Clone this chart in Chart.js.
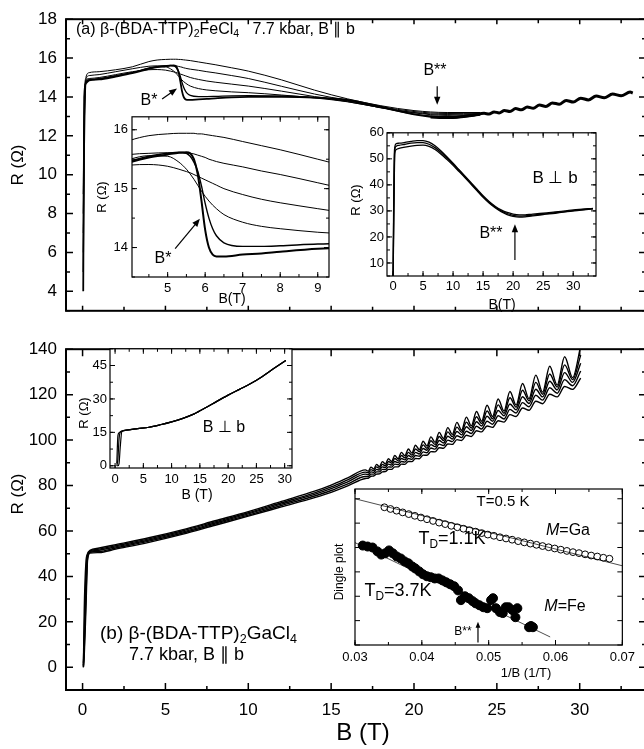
<!DOCTYPE html>
<html>
<head>
<meta charset="utf-8">
<script src="https://cdn.jsdelivr.net/npm/chart.js@4.4.1/dist/chart.umd.min.js"></script>
<style>
  html, body { margin: 0; padding: 0; background: #fff; }
  #fig { position: relative; width: 644px; height: 749px; overflow: hidden;
         font-family: 'Liberation Sans', Arial, sans-serif; color: #000; }
  #fig canvas { position: absolute; }
  .t { position: absolute; white-space: nowrap; line-height: 1; transform: translate(-50%, -50%); }
  .l { transform: translate(0, -50%); }
  .r { transform: translate(-50%, -50%) rotate(-90deg); }
  sub { font-size: 0.66em; vertical-align: -0.32em; line-height: 0; }
  i { font-style: italic; }
</style>
</head>
<body>
<div id="fig">
  <canvas id="cTop" width="660" height="330" style="left:0;top:0"></canvas>
  <canvas id="cBot" width="660" height="419" style="left:0;top:330px"></canvas>
  <canvas id="cInA" width="240" height="200" style="left:100px;top:105px"></canvas>
  <canvas id="cInB" width="260" height="180" style="left:350px;top:122px"></canvas>
  <canvas id="cInC" width="230" height="160" style="left:75px;top:338px"></canvas>
  <canvas id="cInD" width="320" height="200" style="left:320px;top:479px"></canvas>

  <!-- panel (a) -->
  <div class="t l" style="left:76px;top:29px;font-size:16px">(a) β-(BDA-TTP)<sub>2</sub>FeCl<sub>4</sub>&nbsp;&nbsp; 7.7 kbar, B ∥ b</div>
  <div class="t r" style="left:17px;top:165px;font-size:17px">R (Ω)</div>
  <div class="t" style="left:435px;top:70px;font-size:16px">B**</div>
  <div class="t" style="left:149px;top:100px;font-size:16px">B*</div>
  <div class="t r" style="left:101px;top:197px;font-size:13px">R (Ω)</div>
  <div class="t" style="left:232px;top:298px;font-size:14px">B(T)</div>
  <div class="t" style="left:163px;top:258px;font-size:16px">B*</div>
  <div class="t r" style="left:355px;top:200px;font-size:13px">R (Ω)</div>
  <div class="t" style="left:502px;top:304px;font-size:14px">B(T)</div>
  <div class="t" style="left:555px;top:177px;font-size:17px">B ⊥ b</div>
  <div class="t" style="left:491px;top:233px;font-size:16px">B**</div>

  <!-- panel (b) -->
  <div class="t r" style="left:17px;top:494px;font-size:17px">R (Ω)</div>
  <div class="t" style="left:363px;top:732px;font-size:24px">B (T)</div>
  <div class="t l" style="left:100px;top:632px;font-size:19px">(b) β-(BDA-TTP)<sub>2</sub>GaCl<sub>4</sub></div>
  <div class="t l" style="left:129px;top:654px;font-size:18px">7.7 kbar, B ∥ b</div>
  <div class="t r" style="left:83px;top:413px;font-size:13px">R (Ω)</div>
  <div class="t" style="left:224px;top:427px;font-size:16px">B ⊥ b</div>
  <div class="t" style="left:197px;top:494px;font-size:14px">B (T)</div>
  <div class="t" style="left:503px;top:500px;font-size:15px">T=0.5 K</div>
  <div class="t" style="left:568px;top:530px;font-size:16px"><i>M</i>=Ga</div>
  <div class="t" style="left:452px;top:538px;font-size:18px">T<sub>D</sub>=1.1K</div>
  <div class="t" style="left:398px;top:590px;font-size:18px">T<sub>D</sub>=3.7K</div>
  <div class="t" style="left:565px;top:606px;font-size:16px"><i>M</i>=Fe</div>
  <div class="t" style="left:463px;top:631px;font-size:12px">B**</div>
  <div class="t r" style="left:339px;top:572px;font-size:12px">Dingle plot</div>
  <div class="t" style="left:526px;top:672px;font-size:13px">1/B (1/T)</div>
</div>

<script>
const FONT = "'Liberation Sans', Arial, sans-serif";

// ---- (a) FeCl4, B || b : field grid and traces (last one = lowest T)
const feB = [0.04, 0.1, 0.2, 0.4, 1, 2, 3, 4, 4.5, 5, 5.3, 5.5, 5.6, 5.7, 5.8, 5.9, 6.0, 6.1, 6.2, 6.3, 6.5, 7, 7.5, 8, 9, 10, 12, 14, 16, 18, 20, 22, 24];
const feR1 = [9, 13.5, 15.0, 15.25, 15.3, 15.4, 15.55, 15.82, 15.9, 15.93, 15.94, 15.94, 15.94, 15.94, 15.93, 15.93, 15.92, 15.91, 15.9, 15.89, 15.87, 15.8, 15.73, 15.66, 15.5, 15.33, 14.88, 14.35, 13.9, 13.55, 13.3, 13.2, 13.2];
const feR2 = [8, 13.0, 14.9, 15.1, 15.15, 15.3, 15.45, 15.58, 15.6, 15.61, 15.61, 15.6, 15.6, 15.59, 15.57, 15.55, 15.53, 15.5, 15.48, 15.46, 15.43, 15.37, 15.3, 15.24, 15.1, 14.95, 14.55, 14.15, 13.82, 13.5, 13.25, 13.15, 13.17];
const feR3 = [7, 12.5, 14.85, 14.95, 15.0, 15.15, 15.3, 15.4, 15.41, 15.38, 15.33, 15.29, 15.27, 15.24, 15.21, 15.18, 15.15, 15.12, 15.09, 15.06, 15.0, 14.9, 14.82, 14.76, 14.66, 14.56, 14.3, 14.02, 13.76, 13.45, 13.2, 13.1, 13.15];
const feR4 = [6, 12.0, 14.8, 14.9, 14.95, 15.1, 15.25, 15.5, 15.56, 15.55, 15.45, 15.33, 15.25, 15.16, 15.06, 14.96, 14.87, 14.79, 14.72, 14.66, 14.56, 14.43, 14.36, 14.32, 14.26, 14.22, 14.1, 13.95, 13.75, 13.45, 13.18, 13.05, 13.12];
const feR5 = [5, 11.0, 14.75, 14.88, 14.93, 15.08, 15.25, 15.47, 15.55, 15.6, 15.62, 15.6, 15.55, 15.45, 15.3, 15.05, 14.75, 14.5, 14.32, 14.2, 14.08, 14.02, 14.02, 14.03, 14.06, 14.07, 14.05, 13.97, 13.8, 13.45, 13.12, 12.98, 13.1];
const feR6 = [4.0, 14.0, 14.7, 14.85, 14.9, 15.05, 15.22, 15.45, 15.53, 15.58, 15.61, 15.62, 15.6, 15.5, 15.25, 14.8, 14.3, 14.0, 13.88, 13.85, 13.85, 13.88, 13.9, 13.93, 13.98, 14.0, 14.0, 13.97, 13.85, 13.5, 13.1, 12.92, 13.08];
// high-field part where all traces merge (quantum oscillations)
const feTailB = [21, 22, 23, 23.6, 24.23, 24.53, 24.83, 25.14, 25.46, 25.79, 26.13, 26.48, 26.83, 27.2, 27.57, 27.96, 28.35, 28.76, 29.18, 29.61, 30.06, 30.52, 30.99, 31.48, 31.98, 32.5, 33.04, 33.2];
const feTailR = [12.97, 12.94, 13.0, 13.06, 13.16, 13.12, 13.23, 13.18, 13.3, 13.25, 13.4, 13.34, 13.48, 13.42, 13.58, 13.51, 13.69, 13.63, 13.82, 13.74, 13.94, 13.85, 14.05, 13.96, 14.15, 14.06, 14.25, 14.2];

// ---- (a) inset: B perpendicular to b
const perpB = [0.02, 0.1, 0.2, 0.3, 0.5, 1, 2, 3, 4, 5, 6, 7, 8, 9, 10, 11, 12, 13, 14, 15, 16, 17, 18, 19, 20, 21, 22, 23, 25, 27, 29, 31, 33.3];
const perpHi = [5, 30, 50, 54.5, 55.8, 56.0, 56.3, 56.7, 57.0, 57.0, 56.4, 55.0, 53.0, 50.7, 48.3, 45.8, 43.3, 40.8, 38.3, 35.8, 33.6, 31.8, 30.4, 29.4, 28.8, 28.5, 28.5, 28.7, 29.1, 29.6, 30.1, 30.6, 31.0];
const perpMid = [5, 25, 45, 53.5, 54.8, 55.2, 55.6, 56.0, 56.2, 56.2, 55.6, 54.3, 52.4, 50.2, 47.9, 45.5, 43.0, 40.5, 38.0, 35.5, 33.3, 31.5, 30.0, 29.0, 28.3, 28.0, 28.1, 28.3, 28.8, 29.3, 29.8, 30.4, 30.9];
const perpLo = [5, 20, 40, 52, 53.5, 54.0, 54.5, 54.9, 55.2, 55.3, 54.8, 53.6, 51.8, 49.7, 47.5, 45.1, 42.7, 40.2, 37.7, 35.2, 33.0, 31.2, 29.7, 28.6, 27.9, 27.6, 27.7, 28.0, 28.6, 29.1, 29.7, 30.2, 30.8];

// ---- (b) GaCl4, B || b : low field points followed by oscillation extrema
const gaB = [0.05, 0.1, 0.2, 0.3, 0.45, 1, 2, 4, 6, 8, 10, 12, 14, 15, 16,
  17.07, 17.24, 17.40, 17.57, 17.74, 17.91, 18.09, 18.27, 18.46, 18.65, 18.84, 19.04, 19.24, 19.45, 19.66, 19.87,
  20.09, 20.32, 20.55, 20.78, 21.02, 21.27, 21.52, 21.78, 22.04, 22.31, 22.59, 22.87, 23.16, 23.46, 23.77, 24.08,
  24.41, 24.74, 25.08, 25.43, 25.79, 26.16, 26.55, 26.94, 27.35, 27.76, 28.19, 28.64, 29.09, 29.57, 30.06];
const gaR1 = [0, 25, 46, 50, 51.5, 52.5, 54, 57, 60.5, 64.5, 68.5, 73, 77.5, 80.2, 83.4,
  86.9, 86.3, 88.1, 87.3, 89.3, 88.3, 90.5, 89.5, 91.8, 90.6, 93.2, 91.8, 94.6, 93.1, 96.1, 94.3,
  97.7, 95.8, 99.5, 97.4, 101.4, 99.0, 103.4, 100.7, 105.5, 102.5, 107.8, 104.3, 110.1, 106.3, 112.6, 108.3,
  115.3, 110.4, 118.1, 112.8, 121.4, 115.4, 124.9, 118.2, 128.6, 121.1, 132.5, 124.2, 136.7, 127.5, 141.3];
const gaR2 = [2, 15, 40, 49.5, 51.2, 52, 53.5, 56.5, 60, 64, 68, 72.4, 76.8, 79.4, 82.5,
  85.9, 85.6, 87.0, 86.6, 88.2, 87.6, 89.3, 88.7, 90.6, 89.8, 91.9, 91.0, 93.2, 92.2, 94.6, 93.4,
  96.1, 94.9, 97.9, 96.4, 99.7, 98.1, 101.6, 99.8, 103.6, 101.5, 105.7, 103.4, 107.9, 105.3, 110.3, 107.3,
  112.8, 109.4, 115.5, 111.8, 118.6, 114.5, 121.9, 117.3, 125.4, 120.2, 129.1, 123.3, 133.1, 126.6, 137.4];
const gaR3 = [1, 10, 35, 49, 50.9, 51.5, 53, 56, 59.5, 63.5, 67.5, 71.8, 76.1, 78.6, 81.6,
  85.0, 84.8, 86.0, 85.8, 87.1, 86.8, 88.2, 87.9, 89.4, 89.0, 90.6, 90.1, 91.9, 91.3, 93.2, 92.5,
  94.6, 93.9, 96.3, 95.5, 98.0, 97.1, 99.8, 98.7, 101.7, 100.5, 103.8, 102.3, 105.9, 104.2, 108.1, 106.2,
  110.5, 108.3, 113.0, 110.7, 115.9, 113.3, 119.1, 116.1, 122.4, 119.0, 125.9, 122.1, 129.7, 125.4, 133.8];
const gaR4 = [0.5, 8, 30, 48, 50.6, 51, 52.5, 55.5, 59, 63, 67, 71.2, 75.4, 77.8, 80.7,
  84.0, 84.0, 85.0, 85.0, 86.0, 86.0, 87.1, 87.0, 88.2, 88.1, 89.4, 89.2, 90.6, 90.3, 91.9, 91.5,
  93.2, 92.9, 94.8, 94.4, 96.5, 96.0, 98.2, 97.6, 100.0, 99.3, 101.9, 101.1, 103.9, 102.9, 106.1, 104.9,
  108.3, 107.0, 110.7, 109.3, 113.5, 111.9, 116.5, 114.7, 119.7, 117.6, 123.0, 120.6, 126.6, 123.9, 130.4];
const gaR5 = [0, 5, 25, 47, 50.3, 50.5, 52, 55, 58.5, 62.5, 66.5, 70.6, 74.7, 77.0, 79.8,
  83.1, 83.2, 84.1, 84.2, 85.0, 85.1, 86.0, 86.1, 87.1, 87.1, 88.2, 88.2, 89.4, 89.3, 90.6, 90.5,
  91.9, 91.8, 93.4, 93.3, 94.9, 94.8, 96.6, 96.4, 98.3, 98.1, 100.2, 99.8, 102.1, 101.6, 104.1, 103.6,
  106.2, 105.6, 108.5, 107.9, 111.2, 110.4, 114.1, 113.1, 117.1, 116.0, 120.2, 119.0, 123.6, 122.3, 127.3];

// ---- (b) inset: B perpendicular to b
const gaPerpB = [0.3, 0.5, 0.7, 0.9, 1.2, 2, 4, 6, 8, 10, 12, 14, 16, 18, 20, 22, 24, 26, 28, 30.2];
const gaPerp1 = [0, 3, 12, 15, 15.6, 16.0, 16.7, 17.3, 18.4, 19.7, 21.3, 23.3, 26.0, 28.9, 31.7, 34.3, 36.9, 40.0, 43.5, 47.3];
const gaPerp2 = [0, 0, 1, 8, 15.4, 16.0, 16.7, 17.3, 18.4, 19.7, 21.3, 23.3, 26.0, 28.9, 31.7, 34.3, 36.9, 40.0, 43.5, 47.3];
const gaPerp3 = [1, 13.5, 14.8, 15.2, 15.5, 16.0, 16.7, 17.3, 18.4, 19.7, 21.3, 23.3, 26.0, 28.9, 31.7, 34.3, 36.9, 40.0, 43.5, 47.3];

// ---- Dingle plot (arbitrary log units)
const dingGaX = [0.0344, 0.03531, 0.03622, 0.03713, 0.03804, 0.03895, 0.03986, 0.04077, 0.04168, 0.04259,
  0.0435, 0.04441, 0.04532, 0.04623, 0.04714, 0.04805, 0.04896, 0.04987, 0.05078, 0.05169,
  0.0526, 0.05351, 0.05442, 0.05533, 0.05624, 0.05715, 0.05806, 0.05897, 0.05988, 0.06079,
  0.0617, 0.06261, 0.06352, 0.06443, 0.06534, 0.06625, 0.06716, 0.06807];
const dingGaY = [5.65, 5.58, 5.51, 5.44, 5.37, 5.30, 5.23, 5.16, 5.09, 5.02,
  4.96, 4.89, 4.83, 4.77, 4.71, 4.65, 4.59, 4.53, 4.48, 4.42,
  4.37, 4.32, 4.26, 4.21, 4.16, 4.11, 4.06, 4.01, 3.96, 3.91,
  3.86, 3.81, 3.77, 3.72, 3.67, 3.63, 3.58, 3.54];
const dingFeX = [0.03116, 0.03189, 0.03262, 0.03335, 0.03393, 0.03451, 0.03509, 0.03567, 0.03625, 0.03684,
  0.03742, 0.038, 0.03858, 0.03902, 0.0396, 0.04018, 0.04076, 0.04135, 0.04193, 0.04251,
  0.04309, 0.04367, 0.04425, 0.04484, 0.04542, 0.04585, 0.04644, 0.04702, 0.0476, 0.04804,
  0.04862, 0.0492, 0.04978, 0.05036, 0.05065, 0.05109, 0.05167, 0.05211, 0.05255, 0.05298,
  0.05356, 0.054, 0.05429, 0.05604, 0.05633, 0.05662];
const dingFeY = [4.08, 4.04, 4.0, 3.84, 3.71, 3.76, 3.88, 3.76, 3.63, 3.55,
  3.43, 3.35, 3.22, 3.14, 3.02, 2.9, 2.82, 2.78, 2.73, 2.73,
  2.65, 2.57, 2.49, 2.41, 2.24, 1.84, 2.0, 1.92, 1.8, 1.71,
  1.63, 1.55, 1.51, 1.84, 1.92, 1.51, 1.35, 1.31, 1.55, 1.55,
  1.43, 1.14, 1.51, 0.73, 0.78, 0.73];
const fitGaX = [0.03, 0.07], fitGaY = [6.0, 3.25];
const fitFeX = [0.03, 0.0592], fitFeY = [4.2, 0.33];

// multiples of step inside [min, max]
const stepTicks = (min, max, step) => {
  const out = [];
  for (let n = Math.ceil(min / step - 1e-6); n * step <= max + 1e-9; n++) out.push(+(n * step).toFixed(6));
  return out;
};

// frame with inward ticks on all four sides, white plot background, arrows
const frame = {
  id: 'frame',
  beforeDraw(chart, args, o) {
    if (!o.fill) return;
    const a = chart.chartArea, c = chart.ctx;
    c.save();
    c.fillStyle = '#fff';
    c.fillRect(a.left, a.top, a.width, a.height);
    c.restore();
  },
  afterDraw(chart, args, o) {
    const c = chart.ctx, a = chart.chartArea;
    const sx = chart.scales.x, sy = chart.scales.y;
    c.save();
    c.strokeStyle = '#000';
    c.fillStyle = '#000';
    c.lineWidth = o.lw;
    c.strokeRect(a.left, a.top, a.width, a.height);

    const xt = (step, len) => stepTicks(sx.min, sx.max, step).forEach(v => {
      const p = sx.getPixelForValue(v);
      c.moveTo(p, a.bottom); c.lineTo(p, a.bottom - len);
      c.moveTo(p, a.top); c.lineTo(p, a.top + len);
    });
    const yt = (step, len) => stepTicks(sy.min, sy.max, step).forEach(v => {
      const p = sy.getPixelForValue(v);
      c.moveTo(a.left, p); c.lineTo(a.left + len, p);
      c.moveTo(a.right, p); c.lineTo(a.right - len, p);
    });
    c.lineWidth = o.tw;
    c.beginPath();
    if (o.xMinor) xt(o.xMinor, o.minLen);
    if (o.yMinor) yt(o.yMinor, o.minLen);
    xt(o.xMajor, o.xLen || o.majLen);
    yt(o.yMajor, o.majLen);
    c.stroke();

    (o.arrows || []).forEach(([x1, y1, x2, y2]) => {
      const X1 = sx.getPixelForValue(x1), Y1 = sy.getPixelForValue(y1);
      const X2 = sx.getPixelForValue(x2), Y2 = sy.getPixelForValue(y2);
      const ang = Math.atan2(Y2 - Y1, X2 - X1), h = o.head || 8, w = h * 0.4;
      c.lineWidth = 1.2;
      c.beginPath();
      c.moveTo(X1, Y1);
      c.lineTo(X2 - Math.cos(ang) * h * 0.7, Y2 - Math.sin(ang) * h * 0.7);
      c.stroke();
      c.beginPath();
      c.moveTo(X2, Y2);
      c.lineTo(X2 - h * Math.cos(ang) + w * Math.sin(ang), Y2 - h * Math.sin(ang) - w * Math.cos(ang));
      c.lineTo(X2 - h * Math.cos(ang) - w * Math.sin(ang), Y2 - h * Math.sin(ang) + w * Math.cos(ang));
      c.closePath();
      c.fill();
    });
    c.restore();
  }
};

const xy = (xs, ys) => xs.map((x, i) => ({ x, y: ys[i] }));
const trace = (xs, ys, w = 1) => ({
  data: xy(xs, ys), borderColor: '#000', borderWidth: w, pointRadius: 0,
  tension: 0.4, cubicInterpolationMode: 'monotone', fill: false
});
const dots = (xs, ys, r, bg) => ({
  data: xy(xs, ys), showLine: false, pointRadius: r, pointBackgroundColor: bg,
  pointBorderColor: '#000', pointBorderWidth: 1
});

function plot(id, o) {
  const font = { family: FONT, size: o.fs };
  const axis = (range, labels, pad, fmt, fit) => ({
    type: 'linear', min: range[0], max: range[1],
    grid: { display: false, drawTicks: false }, border: { display: false },
    afterBuildTicks: s => { s.ticks = stepTicks(range[0], range[1], range[2]).map(value => ({ value })); },
    ticks: { display: labels !== false, autoSkip: false, maxRotation: 0, padding: pad,
             color: '#000', font, callback: fmt || (v => String(v)) },
    afterFit: fit
  });
  return new Chart(document.getElementById(id), {
    type: 'line',
    data: { datasets: o.datasets },
    options: {
      responsive: false,
      animation: false,
      events: [],
      layout: { padding: { top: o.padTop, right: o.padRight, left: 0, bottom: 0 } },
      scales: {
        x: axis(o.x, o.xLabels, o.xPad, o.xFmt, s => { s.height = o.xH; }),
        y: axis(o.y, o.yLabels, o.yPad, null, s => { s.width = o.yW; })
      },
      plugins: {
        legend: { display: false },
        tooltip: { enabled: false },
        frame: Object.assign({ xMajor: o.x[2], yMajor: o.y[2] }, o.frame)
      }
    },
    plugins: [frame]
  });
}

const feTraces = (thin, mid, thick) => [
  trace(feB, feR1, thin), trace(feB, feR2, thin), trace(feB, feR3, thin),
  trace(feB, feR4, thin), trace(feB, feR5, mid), trace(feB, feR6, thick)
];

// (a) main
plot('cTop', {
  x: [-1, 34, 5], y: [3, 18, 2], xLabels: false, fs: 17,
  yW: 66, xH: 7, padTop: 12, padRight: 14, yPad: 9, xPad: 8,
  datasets: [...feTraces(1, 1.3, 1.8), trace(feTailB, feTailR, 3)],
  frame: { lw: 2, tw: 1.5, xMinor: 2.5, yMinor: 1, majLen: 7, xLen: 5, minLen: 4,
           arrows: [[21.4, 14.55, 21.4, 13.6], [4.8, 13.9, 5.7, 14.43]] }
});

// (b) main
plot('cBot', {
  x: [-1, 34, 5], y: [-10, 140, 20], fs: 17,
  yW: 66, xH: 59, padTop: 8, padRight: 14, yPad: 9, xPad: 10,
  datasets: [trace(gaB, gaR1, 1.4), trace(gaB, gaR2, 1.4), trace(gaB, gaR3, 1.4),
             trace(gaB, gaR4, 1.4), trace(gaB, gaR5, 1.4)],
  frame: { lw: 2, tw: 1.5, xMinor: 2.5, yMinor: 10, majLen: 7, minLen: 4 }
});

// (a) inset around B*
plot('cInA', {
  x: [4.05, 9.3, 1], y: [13.5, 16.22, 1], fs: 13,
  yW: 32, xH: 28, padTop: 10, padRight: 11, yPad: 4, xPad: 4,
  datasets: feTraces(1, 1.4, 2),
  frame: { lw: 1.2, tw: 1, xMinor: 0.5, yMinor: 0.5, majLen: 5, minLen: 3, fill: true,
           arrows: [[5.2, 13.98, 5.86, 14.49]] }
});

// (a) inset, B perpendicular
plot('cInB', {
  x: [-1, 33.8, 5], y: [5, 60, 10], fs: 13,
  yW: 37, xH: 26, padTop: 10, padRight: 14, yPad: 3, xPad: 3,
  datasets: [trace(perpB, perpHi, 1.3), trace(perpB, perpMid, 1.3), trace(perpB, perpLo, 1.3)],
  frame: { lw: 1.2, tw: 1, xMinor: 2.5, yMinor: 5, majLen: 5, minLen: 3, fill: true,
           arrows: [[20.3, 11.1, 20.3, 24.9]] }
});

// (b) inset, B perpendicular
plot('cInC', {
  x: [-0.9, 31.3, 5], y: [-1, 52.5, 15], fs: 13,
  yW: 35, xH: 30, padTop: 10, padRight: 13, yPad: 3, xPad: 4,
  datasets: [trace(gaPerpB, gaPerp1, 1.2), trace(gaPerpB, gaPerp2, 1.2), trace(gaPerpB, gaPerp3, 1.2)],
  frame: { lw: 1.2, tw: 1, xMinor: 2.5, yMinor: 7.5, majLen: 5, minLen: 3, fill: true }
});

// Dingle plot
plot('cInD', {
  x: [0.03, 0.07, 0.01], y: [0, 6.4, 1], yLabels: false, fs: 13,
  yW: 35, xH: 34, padTop: 10, padRight: 12, yPad: 3, xPad: 5,
  xFmt: v => v.toFixed(2),
  datasets: [trace(fitGaX, fitGaY, 0.7), trace(fitFeX, fitFeY, 0.7),
             dots(dingGaX, dingGaY, 3.4, '#fff'), dots(dingFeX, dingFeY, 4.5, '#000')],
  frame: { lw: 1.2, tw: 1, xMinor: 0.005, majLen: 5, minLen: 3, fill: true, head: 6,
           arrows: [[0.0484, 0.1, 0.0484, 0.95]] }
});
</script>
</body>
</html>
